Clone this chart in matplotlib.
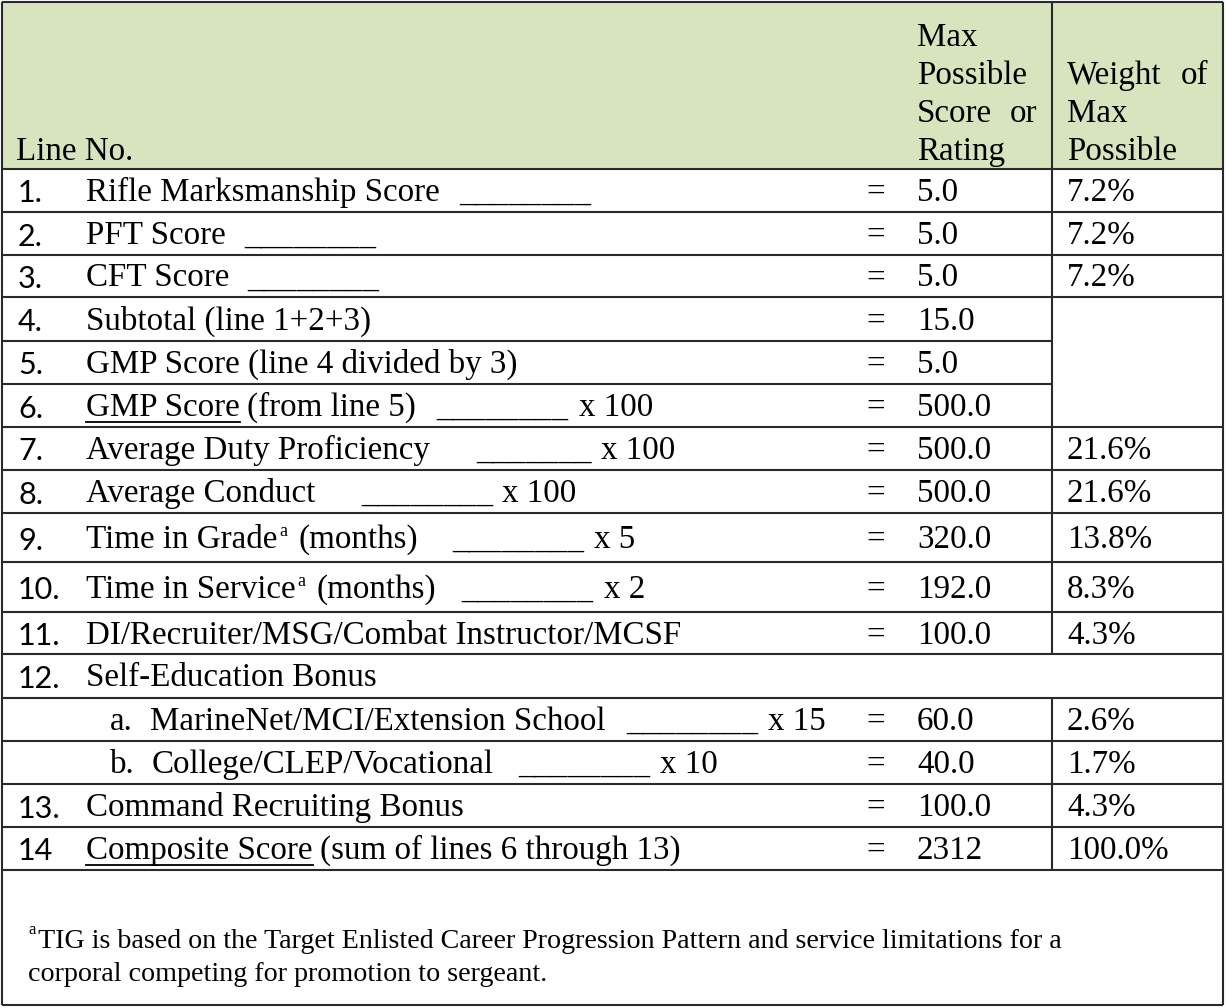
import matplotlib.pyplot as plt

# ---- table content -------------------------------------------------------
line_nos = ["1.", "2.", "3.", "4.", "5.", "6.", "7.", "8.", "9.", "10.",
            "11.", "12.", "", "", "13.", "14"]
sub_marks = ["", "", "", "", "", "", "", "", "", "", "", "", "a.", "b.", "", ""]
items = [
    "Rifle Marksmanship Score",
    "PFT Score",
    "CFT Score",
    "Subtotal (line 1+2+3)",
    "GMP Score (line 4 divided by 3)",
    "GMP Score",
    "Average Duty Proficiency",
    "Average Conduct",
    "Time in Grade",
    "Time in Service",
    "DI/Recruiter/MSG/Combat Instructor/MCSF",
    "Self-Education Bonus",
    "MarineNet/MCI/Extension School",
    "College/CLEP/Vocational",
    "Command Recruiting Bonus",
    "Composite Score",
]
item_tails = ["", "", "", "", "", "(from line 5)", "", "", "(months)", "(months)",
              "", "", "", "", "", "(sum of lines 6 through 13)"]
blanks = ["________", "________", "________", "", "", "________", "_______",
          "________", "________", "________", "", "", "________", "________", "", ""]
multipliers = ["", "", "", "", "", "x 100", "x 100", "x 100", "x 5", "x 2",
               "", "", "x 15", "x 10", "", ""]
max_scores = ["5.0", "5.0", "5.0", "15.0", "5.0", "500.0", "500.0", "500.0",
              "320.0", "192.0", "100.0", "", "60.0", "40.0", "100.0", "2312"]
weights = ["7.2%", "7.2%", "7.2%", "", "", "", "21.6%", "21.6%", "13.8%",
           "8.3%", "4.3%", "", "2.6%", "1.7%", "4.3%", "100.0%"]
underlined = [5, 15]
superscript_rows = [8, 9]
footnote = ["TIG is based on the Target Enlisted Career Progression Pattern "
            "and service limitations for a",
            "corporal competing for promotion to sergeant."]

# ---- layout (pixels) -----------------------------------------------------
row_edges = [169, 212, 255, 297, 341, 384, 427, 470, 513, 562, 612, 654,
             698, 741, 784, 827, 870]
tail_x = {5: 247, 8: 298, 9: 316, 15: 320}
blank_x = {0: 459, 1: 244, 2: 247, 5: 436, 6: 476, 7: 361, 8: 452, 9: 461,
           12: 626, 13: 518}
mult_x = {5: 579, 6: 601, 7: 502, 8: 594, 9: 604, 12: 768, 13: 660}
LEFT, RIGHT, TOP, BOTTOM = 2, 1223, 2, 1005
COL_W = 1052
HEADER_BG = "#d7e4bd"
LINE_C = "#2a2a2a"
SERIF = "Liberation Serif"
SANS = "Lato"
FS = 23.8

fig = plt.figure(figsize=(12.26, 10.08), dpi=100)
ax = fig.add_axes([0, 0, 1, 1])
ax.set_xlim(0, 1226)
ax.set_ylim(1008, 0)
ax.axis("off")

# header background
ax.fill_between([LEFT, RIGHT], TOP, row_edges[0], color=HEADER_BG, lw=0)


def hline(y, x0=LEFT, x1=RIGHT):
    ax.plot([x0, x1], [y, y], color=LINE_C, lw=1.5, solid_capstyle="butt")


def vline(x, y0, y1):
    ax.plot([x, x], [y0, y1], color=LINE_C, lw=1.5, solid_capstyle="butt")


# outer border
hline(TOP)
hline(BOTTOM)
vline(LEFT, TOP, BOTTOM)
vline(RIGHT, TOP, BOTTOM)

# row lines (rows 4-6 share a merged weight cell)
for i, y in enumerate(row_edges):
    if i in (4, 5):
        hline(y, LEFT, COL_W)
    else:
        hline(y)

# weight column divider, interrupted by the full-width row 12
vline(COL_W, TOP, row_edges[11])
vline(COL_W, row_edges[12], row_edges[-1])

# header text
hdr = dict(family=SERIF, fontsize=FS, va="baseline")
ax.text(16, 160, "Line No.", ha="left", **hdr)
ax.text(917, 46, "Max", ha="left", **hdr)
ax.text(917, 84, "Possible", ha="left", **hdr)
ax.text(917, 122, "Score", ha="left", **hdr)
ax.text(1037, 122, "or", ha="right", **hdr)
ax.text(917, 160, "Rating", ha="left", **hdr)
ax.text(1067, 84, "Weight", ha="left", **hdr)
ax.text(1208, 84, "of", ha="right", **hdr)
ax.text(1067, 122, "Max", ha="left", **hdr)
ax.text(1067, 160, "Possible", ha="left", **hdr)

# body rows
body = dict(family=SERIF, fontsize=FS, va="baseline", ha="left")
item_texts = {}
for i in range(len(items)):
    top, bot = row_edges[i], row_edges[i + 1]
    base = (top + bot) / 2 + 10.5
    if line_nos[i]:
        ax.text(18, base + 1.5, line_nos[i], family=SANS, fontsize=22,
                va="baseline", ha="left")
    x_item = 86
    if sub_marks[i]:
        ax.text(110, base, sub_marks[i], **body)
        x_item = 150 if sub_marks[i] == "a." else 152
    item_texts[i] = (ax.text(x_item, base, items[i], **body), base)
    if item_tails[i]:
        ax.text(tail_x[i], base, item_tails[i], **body)
    if blanks[i]:
        ax.text(blank_x[i], base, blanks[i], **body)
    if multipliers[i]:
        ax.text(mult_x[i], base, multipliers[i], **body)
    if max_scores[i]:
        ax.text(876, base, "=", family=SERIF, fontsize=FS, va="baseline",
                ha="center")
        ax.text(917, base, max_scores[i], **body)
    if weights[i]:
        ax.text(1067, base, weights[i], **body)

# underlines and superscripts placed from measured label extents
fig.canvas.draw()
inv = ax.transData.inverted()
renderer = fig.canvas.get_renderer()


def text_span(t):
    bb = t.get_window_extent(renderer)
    (x0, _), (x1, _) = inv.transform([(bb.x0, bb.y0), (bb.x1, bb.y1)])
    return x0, x1


for i in underlined:
    t, base = item_texts[i]
    x0, x1 = text_span(t)
    ax.plot([x0, x1], [base + 6, base + 6], color="black", lw=1.3)

for i in superscript_rows:
    t, base = item_texts[i]
    _, x1 = text_span(t)
    ax.text(x1 + 1.5, base - 12, "a", family=SERIF, fontsize=13,
            va="baseline", ha="left")

# footnote
ax.text(28, 934, "a", family=SERIF, fontsize=12, va="baseline", ha="left")
ax.text(38, 948, footnote[0], family=SERIF, fontsize=20.2, va="baseline",
        ha="left")
ax.text(28, 981, footnote[1], family=SERIF, fontsize=20.2, va="baseline",
        ha="left")

fig.savefig("out.png", dpi=100, facecolor="white")
plt.close(fig)
